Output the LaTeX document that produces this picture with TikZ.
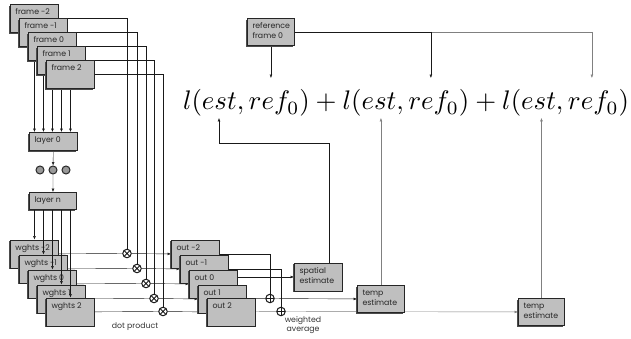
\documentclass[tikz,border=0pt]{standalone}
\usepackage{fontspec}
\usepackage{graphicx}
\newfontfamily\boxfont{Poppins}
\usetikzlibrary{arrows.meta,shadows}
\pgfdeclarelayer{bg}
\pgfsetlayers{bg,main}

% grey block with a dark shadow and text in the upper left corner
\newcommand\gbox[6]{%
  \node[gbox, minimum width=#4pt, minimum height=#5pt, anchor=north west] (#1) at (#2,#3) {};
  \node[btext, anchor=north west] (#1-t) at ([xshift=5pt, yshift=-4.5pt]#1.north west) {#6};
}

\begin{document}
\begin{tikzpicture}[x=1pt, y=-1pt, line width=1pt,
  conn/.style={draw=black!90},
  gconn/.style={draw=black!50},
  arr/.style={conn, -{Latex[length=3.4pt,width=2.8pt]}},
  garr/.style={gconn, -{Latex[length=3.4pt,width=2.8pt]}},
  gbox/.style={rectangle, draw=black!85, line width=0.9pt, fill=black!25, inner sep=0pt,
    drop shadow={shadow xshift=-1.2pt, shadow yshift=-1.2pt, fill=black!70, opacity=1}},
  btext/.style={font=\boxfont\fontsize{7.8}{10}\selectfont, text=black!85, inner sep=0pt, align=left},
  lab/.style={font=\boxfont\fontsize{7.8}{9.5}\selectfont, text=black!80, inner sep=0pt},
  mult/.style={circle, draw=black!90, fill=white, minimum size=8.5pt, inner sep=0pt,
    path picture={\draw[black!90] (path picture bounding box.north west) -- (path picture bounding box.south east)
      (path picture bounding box.north east) -- (path picture bounding box.south west);}},
  plus/.style={circle, draw=black!90, fill=white, minimum size=8.5pt, inner sep=0pt,
    path picture={\draw[black!90] (path picture bounding box.north) -- (path picture bounding box.south)
      (path picture bounding box.east) -- (path picture bounding box.west);}},
  dotc/.style={circle, draw=black!85, fill=black!40, minimum size=8pt, inner sep=0pt},
]
\useasboundingbox (0,0) rectangle (631,339);

% input frames
\gbox{fm2}{10}{4}{48}{28}{frame -2}
\gbox{fm1}{19}{18}{48}{28}{frame -1}
\gbox{f0}{28}{32}{48}{28}{frame 0}
\gbox{f1}{37}{46}{48}{28}{frame 1}
\gbox{f2}{46}{60}{48}{28}{frame 2}

% network
\gbox{l0}{29}{132}{48}{18}{layer 0}
\node[dotc] (d1) at (40,170) {};
\node[dotc] (d2) at (53,170) {};
\node[dotc] (d3) at (66,170) {};
\gbox{ln}{29}{192}{47}{17}{layer n}

% per-frame weights
\gbox{wm2}{10}{239.5}{48}{28}{wghts -2}
\gbox{wm1}{19}{254.5}{48}{28}{wghts -1}
\gbox{w0}{28}{269.5}{48}{28}{wghts 0}
\gbox{w1}{37}{284.5}{48}{28}{wghts 1}
\gbox{w2}{46}{297.5}{48}{28}{wghts 2}

% weighted outputs
\gbox{om2}{171}{239.5}{48}{28}{out -2}
\gbox{om1}{180}{254.5}{48}{28}{out -1}
\gbox{o0}{189}{269.5}{48}{28}{out 0}
\gbox{o1}{198}{284.5}{48}{28}{out 1}
\gbox{o2}{207}{297.5}{48}{28}{out 2}

% estimates and reference
\gbox{se}{294}{262.5}{48}{28}{spatial\\estimate}
\gbox{te1}{357}{285}{47}{27}{temp\\estimate}
\gbox{te2}{518}{298}{46}{27}{temp\\estimate}
\gbox{rf}{247}{18}{47}{27}{reference\\frame 0}

% products and sums
\node[mult] (m1) at (127,253.5) {};
\node[mult] (m2) at (137,268.5) {};
\node[mult] (m3) at (146,283.5) {};
\node[mult] (m4) at (154,298.5) {};
\node[mult] (m5) at (163,311.5) {};
\node[plus] (p1) at (270,298.5) {};
\node[plus] (p2) at (281,311.5) {};

% loss
\node[anchor=base, inner sep=0pt] (fml) at (406,110)
  {\resizebox{446pt}{!}{$l(est,ref_0)+l(est,ref_0)+l(est,ref_0)$}};

\node[lab] (dp) at (135,327) {dot product};
\node[lab, align=center] (wa) at (303,325) {weighted\\average};

\coordinate (ftop) at (0,78);
\coordinate (fbot) at (0,118);
\coordinate (sb) at (329,143);
\coordinate (sa) at (219,143);
\path (rf.east) -- ++(136,0) coordinate (r2) -- ++(161,0) coordinate (r3);

\begin{pgfonlayer}{bg}
  \foreach \f in {fm2,fm1,f0,f1,f2}
    \draw[arr] (\f.center) -- (\f.center |- l0.north);
  \draw[conn] (fm2.center) -| (m1);
  \draw[conn] (fm1.center) -| (m2);
  \draw[conn] (f0.center) -| (m3);
  \draw[conn] (f1.center) -| (m4);
  \draw[conn] (f2.center) -| (m5);
  \draw[arr] (l0) -- (d2);
  \draw[arr] (d2) -- (ln);
  \draw[conn] (wm2.center) -- (m1);  \draw[arr] (m1) -- (om2.west);
  \draw[conn] (wm1.center) -- (m2);  \draw[arr] (m2) -- (om1.west);
  \draw[conn] (w0.center) -- (m3);   \draw[arr] (m3) -- (o0.west);
  \draw[conn] (w1.center) -- (m4);   \draw[arr] (m4) -- (o1.west);
  \draw[conn] (w2.center) -- (m5);   \draw[arr] (m5) -- (o2.west);
  \draw[conn] (om2.center) -| (p1);
  \draw[conn] (om1.center) -| (p2);
  \draw[arr] (se.west -| o0.center) -- (se.west);
  \draw[conn] (o1.center) -- (p1);   \draw[arr] (p1) -- (te1.west);
  \draw[gconn] (o2.center) -- (p2);  \draw[garr] (p2) -- (te2.west);
  \draw[arr] (se.north -| sb) -- (sb) -- (sa) -- (sa |- fbot);
  \draw[garr] (te1.north) -- (te1.north |- fbot);
  \draw[garr] (te2.north) -- (te2.north |- fbot);
  \draw[arr] (rf.south) -- (rf.south |- ftop);
  \draw[conn] (rf.east) -- (r2);
  \draw[gconn] (r2) -- (r3);
  \draw[arr] (r2) -- (r2 |- ftop);
  \draw[garr] (r3) -- (r3 |- ftop);
\end{pgfonlayer}

% network outputs feed each weight block
\foreach \w in {wm2,wm1,w0,w1,w2}
  \draw[arr] (\w.north |- ln.south) -- (\w.north);
\end{tikzpicture}
\end{document}
